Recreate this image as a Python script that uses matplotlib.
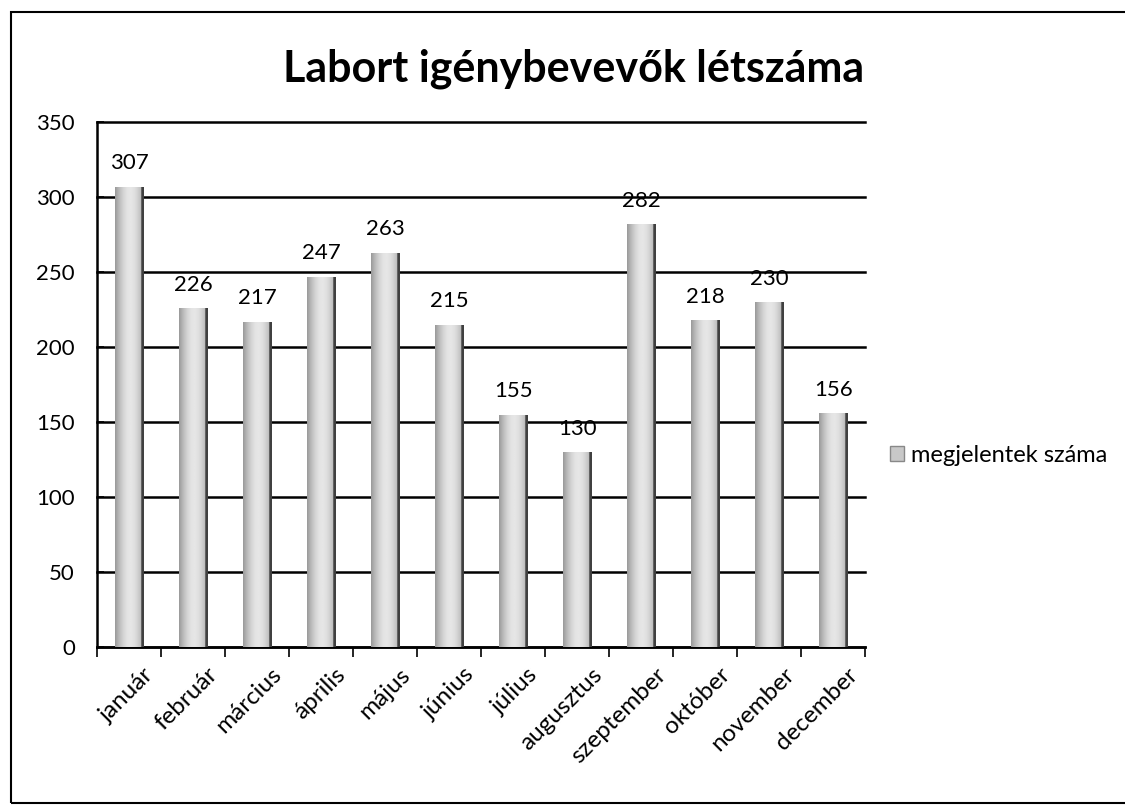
import matplotlib
matplotlib.use('Agg')
import matplotlib.pyplot as plt
import matplotlib.transforms as mtransforms
import numpy as np
from matplotlib.patches import Rectangle

plt.rcParams['font.family'] = ['Lato', 'DejaVu Sans']

honapok = ['január', 'február', 'március', 'április', 'május', 'június',
           'július', 'augusztus', 'szeptember', 'október', 'november', 'december']
megjelentek = [307, 226, 217, 247, 263, 215, 155, 130, 282, 218, 230, 156]
y_ticks = [0, 50, 100, 150, 200, 250, 300, 350]

fig = plt.figure(figsize=(11.25, 8.08), dpi=100)
ax = fig.add_axes([0.0862, 0.199, 0.683, 0.650])

x = np.arange(len(honapok))
szel = 0.44
bars = ax.bar(x, megjelentek, width=szel, color='#c8c8c8', edgecolor='none',
              zorder=3, label='megjelentek száma')

# hengeres hatás: vízszintes szürke átmenet minden oszlopon
grad = np.linspace(0, 1, 64)
shade = 0.55 + 0.35 * np.sin(np.pi * (grad * 0.85 + 0.05))
shade[-6:] = 0.25
img = np.tile(shade, (2, 1))
for b in bars:
    x0, w, h = b.get_x(), b.get_width(), b.get_height()
    im = ax.imshow(img, extent=(x0, x0 + w, 0, h), cmap='gray', vmin=0, vmax=1,
                   aspect='auto', zorder=4, interpolation='bilinear')
    im.set_clip_path(b)
    ax.text(x0 + w / 2, h + 9, f'{h:.0f}', ha='center', va='bottom',
            fontsize=16, zorder=5)

ax.set_xlim(-0.5, len(honapok) - 0.5)
ax.set_ylim(0, 350)
ax.set_yticks(y_ticks)
ax.tick_params(axis='y', labelsize=16, length=5, direction='in', width=1.2, pad=16)
ax.set_xticks(np.arange(-0.5, len(honapok) + 0.5, 1), minor=False)
ax.set_xticklabels([])
ax.set_xticks(x, minor=True)
ax.set_xticklabels(honapok, minor=True, rotation=45, ha='right',
                   rotation_mode='anchor', fontsize=17.5)
ax.tick_params(axis='x', which='major', length=7, direction='out', width=1.2)
ax.tick_params(axis='x', which='minor', length=0, pad=12)
eltol = mtransforms.ScaledTranslation(0.14, 0, fig.dpi_scale_trans)
for lbl in ax.get_xticklabels(minor=True):
    lbl.set_transform(lbl.get_transform() + eltol)
ax.grid(axis='y', color='black', linewidth=1.8, zorder=1)
for gl in ax.get_ygridlines():
    gl.set_clip_on(False)
ax.set_axisbelow(True)
for s in ['top', 'right']:
    ax.spines[s].set_visible(False)
for s in ['left', 'bottom']:
    ax.spines[s].set_linewidth(1.8)

fig.text(0.510, 0.915, 'Labort igénybevevők létszáma', ha='center', va='center',
         fontsize=31, fontweight='bold')

fig.legend(handles=[Rectangle((0, 0), 1, 1, facecolor='#c8c8c8', edgecolor='#888888')],
           labels=['megjelentek száma'], loc='center left',
           bbox_to_anchor=(0.772, 0.436), frameon=False, fontsize=17,
           handlelength=0.6, handleheight=0.6, handletextpad=0.3)

fig.patches.append(Rectangle((0.010, 0.006), 1.2, 0.979, transform=fig.transFigure,
                             fill=False, edgecolor='black', linewidth=1.5))

fig.savefig('out.png', dpi=100)
